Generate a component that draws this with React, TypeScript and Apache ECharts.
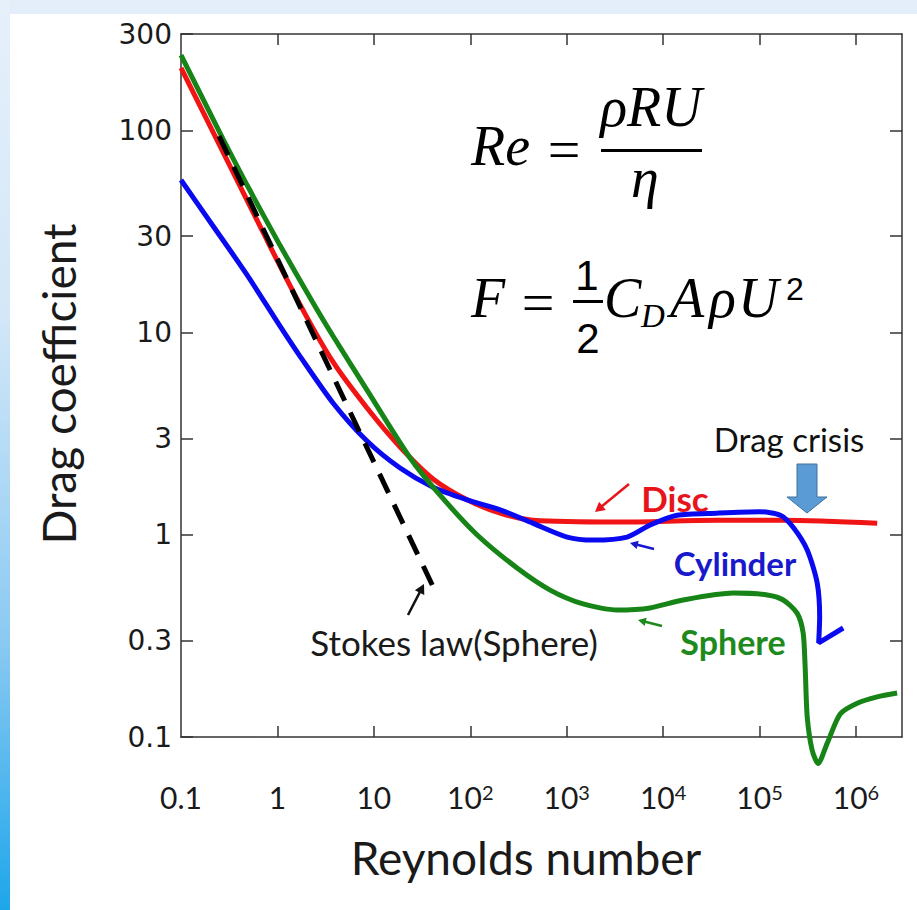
import { useEffect, useRef } from 'react';
import * as echarts from 'echarts';

// ---- data (Reynolds number, drag coefficient) ----
const reTicks = [0.1, 1, 10, 100, 1000, 10000, 100000, 1000000];
const cdTicks = [0.1, 0.3, 1, 3, 10, 30, 100, 300];
const cdTickLabels = ['0.1', '0.3', '1', '3', '10', '30', '100', '300'];

const sphereRe = [0.1, 0.273, 0.484, 1.06, 2.29, 3.77, 8.5, 23.8, 48.6, 118, 306, 673, 1479, 3330, 7330, 16100, 53200, 120000, 176000, 245000, 283000, 297000, 312000, 351000, 405000, 502000, 686000, 1030000, 1660000, 2670000];
const sphereCd = [236, 90.6, 53.7, 27.1, 14.3, 9.62, 5.2, 2.4, 1.57, 0.998, 0.685, 0.533, 0.455, 0.425, 0.435, 0.476, 0.515, 0.504, 0.476, 0.41, 0.327, 0.222, 0.126, 0.086, 0.074, 0.093, 0.13, 0.147, 0.158, 0.165];

const discRe = [0.1, 0.273, 0.692, 1.71, 3.77, 8.5, 18.7, 41.1, 92.7, 204, 448, 3330, 36300, 176000, 1660000];
const discCd = [204, 78.2, 32.1, 13.8, 7.16, 4.24, 2.72, 1.89, 1.49, 1.28, 1.18, 1.157, 1.18, 1.18, 1.14];

const cylRe = [0.1, 0.215, 0.484, 1.06, 1.71, 3.77, 8.5, 18.7, 41.1, 92.7, 204, 448, 1010, 1880, 4240, 7330, 13970, 36300, 101000, 164000, 223000, 312000, 396000, 420000, 410000, 737000];
const cylCd = [56.9, 33.7, 19.3, 10.8, 7.66, 4.49, 2.91, 2.14, 1.72, 1.49, 1.33, 1.14, 0.975, 0.942, 0.975, 1.118, 1.25, 1.28, 1.3, 1.25, 1.09, 0.841, 0.578, 0.39, 0.292, 0.346];

const stokesRe = [0.248, 44.2];
const stokesCd = [93.8, 0.515];

const zip = (xs: number[], ys: number[]) => xs.map((x, i) => [x, ys[i]]);

function arrow(x1: number, y1: number, x2: number, y2: number, color: string, w: number, head: number) {
  const ang = Math.atan2(y2 - y1, x2 - x1);
  const a1 = ang + Math.PI * 0.84;
  const a2 = ang - Math.PI * 0.84;
  const bx = x2 - Math.cos(ang) * head * 0.6;
  const by = y2 - Math.sin(ang) * head * 0.6;
  return [
    { type: 'line', shape: { x1, y1, x2: bx, y2: by }, style: { stroke: color, lineWidth: w } },
    {
      type: 'polygon',
      shape: {
        points: [
          [x2, y2],
          [x2 + head * Math.cos(a1), y2 + head * Math.sin(a1)],
          [x2 + head * Math.cos(a2), y2 + head * Math.sin(a2)],
        ],
      },
      style: { fill: color },
    },
  ];
}

function txt(text: string, x: number, y: number, font: string, fill: string, align = 'center', extra: any = {}) {
  return {
    type: 'text',
    x,
    y,
    ...extra,
    style: { text, font, fill, align, verticalAlign: 'middle', textAlign: align, textVerticalAlign: 'middle' },
  };
}

const SERIF_I = 'italic 56px "Liberation Serif"';

export default function App() {
  const ref = useRef<HTMLDivElement>(null);
  useEffect(() => {
    document.body.style.margin = '0';
    const chart = echarts.init(ref.current!, undefined, { renderer: 'svg' });
    const axisLine = { show: true, lineStyle: { color: '#333', width: 1.5 } };
    const tickStyle = { color: '#333', width: 1.5 };
    chart.setOption({
      animation: false,
      backgroundColor: '#ffffff',
      grid: { left: 181, top: 34, right: 15, bottom: 173, containLabel: false, outerBoundsMode: 'none' },
      xAxis: [
        {
          type: 'log', logBase: 10, min: 0.1, max: 3e6, position: 'bottom',
          axisLine, splitLine: { show: false },
          axisTick: { show: true, inside: true, length: 11, lineStyle: tickStyle, customValues: reTicks.slice(1) },
          axisLabel: {
            show: true, margin: 45, customValues: reTicks,
            formatter: (v: number) => {
              const e = Math.round(Math.log10(v));
              if (e >= 2) return `{b|10}{s|${e}}`;
              return `{b|${e < 0 ? '0.1' : e === 0 ? '1' : '10'}}`;
            },
            rich: {
              b: { fontFamily: 'Lato', fontSize: 30, lineHeight: 30, color: '#1a1a1a' },
              s: { fontFamily: 'Lato', fontSize: 20, lineHeight: 20, color: '#1a1a1a', verticalAlign: 'top' },
            },
          },
        },
        {
          type: 'log', logBase: 10, min: 0.1, max: 3e6, position: 'top',
          axisLine, splitLine: { show: false },
          axisTick: { show: true, inside: true, length: 11, lineStyle: tickStyle, customValues: reTicks.slice(1) },
          axisLabel: { show: false },
        },
      ],
      yAxis: [
        {
          type: 'log', logBase: 10, min: 0.1, max: 300, position: 'left',
          axisLine, splitLine: { show: false },
          axisTick: { show: true, inside: true, length: 12, lineStyle: tickStyle, customValues: cdTicks },
          axisLabel: {
            show: true, margin: 9, customValues: cdTicks,
            formatter: (v: number) => {
              let best = 0;
              cdTicks.forEach((t, i) => { if (Math.abs(Math.log10(t) - Math.log10(v)) < Math.abs(Math.log10(cdTicks[best]) - Math.log10(v))) best = i; });
              return cdTickLabels[best];
            },
            fontFamily: 'DejaVu Sans', fontSize: 28, color: '#1a1a1a',
          },
        },
        {
          type: 'log', logBase: 10, min: 0.1, max: 300, position: 'right',
          axisLine, splitLine: { show: false },
          axisTick: { show: true, inside: true, length: 12, lineStyle: tickStyle, customValues: cdTicks.slice(1, -1) },
          axisLabel: { show: false },
        },
      ],
      series: [
        {
          name: 'Disc', type: 'line', xAxisIndex: 0, yAxisIndex: 0, data: zip(discRe, discCd),
          smooth: 0.3, showSymbol: false, clip: false, lineStyle: { color: '#f01414', width: 5 }, z: 3,
        },
        {
          name: 'Cylinder', type: 'line', xAxisIndex: 0, yAxisIndex: 0, data: zip(cylRe, cylCd),
          smooth: 0.25, showSymbol: false, clip: false, lineStyle: { color: '#0a0af0', width: 5 }, z: 4,
        },
        {
          name: 'Sphere', type: 'line', xAxisIndex: 0, yAxisIndex: 0, data: zip(sphereRe, sphereCd),
          smooth: 0.25, showSymbol: false, clip: false, lineStyle: { color: '#168416', width: 5 }, z: 5,
        },
        {
          name: 'Stokes law (Sphere)', type: 'line', xAxisIndex: 0, yAxisIndex: 0, data: zip(stokesRe, stokesCd),
          showSymbol: false, clip: false, lineStyle: { color: '#000', width: 5, type: [21, 13], cap: 'butt' }, z: 6,
        },
      ],
      graphic: [
        { type: 'rect', shape: { x: 0, y: 0, width: 917, height: 14 }, style: { fill: '#e4eefa' }, z: -10 },
        {
          type: 'rect', shape: { x: 0, y: 0, width: 10, height: 910 }, z: -10,
          style: {
            fill: new echarts.graphic.LinearGradient(0, 0, 0, 1, [
              { offset: 0, color: '#e6f0fb' },
              { offset: 0.35, color: '#d2e7f8' },
              { offset: 0.7, color: '#8ccaf2' },
              { offset: 1, color: '#1ea6ea' },
            ]),
          },
        },
        txt('Drag coefficient', 58, 384, '46px Lato', '#1a1a1a', 'center', { rotation: Math.PI / 2 }),
        txt('Reynolds number', 526, 857, '46px Lato', '#1a1a1a'),
        txt('Disc', 675, 498, 'bold 35px Lato', '#e8141c'),
        txt('Cylinder', 735, 563, 'bold 33px Lato', '#1818cc'),
        txt('Sphere', 733, 641, 'bold 34px Lato', '#1e8a1e'),
        txt('Stokes law(Sphere)', 454, 642, '35px Lato', '#1a1a1a'),
        txt('Drag crisis', 789, 439, '33px Lato', '#111'),
        ...arrow(629, 484, 595, 512, '#e8141c', 2.5, 11),
        ...arrow(654, 549, 630, 543, '#1818cc', 2.5, 9),
        ...arrow(662, 626, 638, 620, '#1e8a1e', 2.5, 9),
        ...arrow(408, 615, 424, 584, '#111', 2.5, 11),
        {
          type: 'polygon',
          shape: { points: [[797, 464], [817, 464], [817, 497], [827, 497], [807, 513], [787, 497], [797, 497]] },
          style: { fill: '#5b9bd5', stroke: '#41719c', lineWidth: 1 },
        },
        // equations
        txt('Re', 471, 146, SERIF_I, '#000', 'left'),
        txt('=', 564, 149, '58px "Liberation Serif"', '#000'),
        txt('ρRU', 651, 107, SERIF_I, '#000'),
        { type: 'line', shape: { x1: 601, y1: 150.5, x2: 702, y2: 150.5 }, style: { stroke: '#000', lineWidth: 3 } },
        txt('η', 645, 178, SERIF_I, '#000'),
        txt('F', 471, 298, SERIF_I, '#000', 'left'),
        txt('=', 538, 302, '58px "Liberation Serif"', '#000'),
        txt('1', 587, 275, '42px "Liberation Sans"', '#000'),
        { type: 'line', shape: { x1: 573, y1: 301.5, x2: 603, y2: 301.5 }, style: { stroke: '#000', lineWidth: 3 } },
        txt('2', 588, 338, '42px "Liberation Sans"', '#000'),
        txt('C', 604, 298, SERIF_I, '#000', 'left'),
        txt('D', 641, 316, 'italic 33px "Liberation Serif"', '#000', 'left'),
        txt('A', 670, 298, SERIF_I, '#000', 'left'),
        txt('ρ', 709, 298, SERIF_I, '#000', 'left'),
        txt('U', 738, 298, SERIF_I, '#000', 'left'),
        txt('2', 786, 289, '32px "Liberation Sans"', '#000', 'left'),
      ],
    });
    return () => chart.dispose();
  }, []);
  return <div ref={ref} style={{ width: 917, height: 910 }} />;
}
